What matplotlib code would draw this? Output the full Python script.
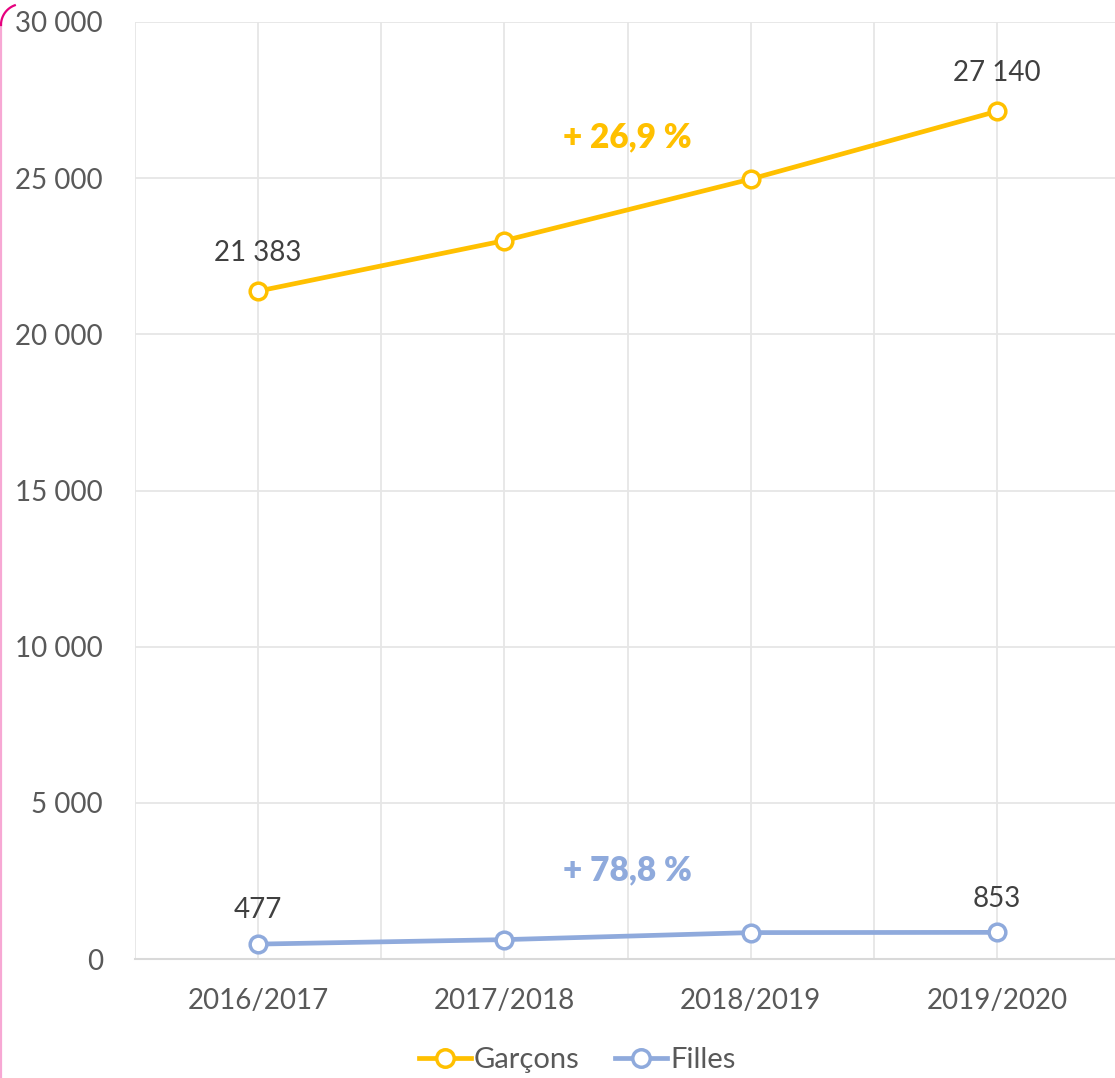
import matplotlib
matplotlib.use("Agg")
import matplotlib.pyplot as plt
from matplotlib.lines import Line2D
import numpy as np

categories = ["2016/2017", "2017/2018", "2018/2019", "2019/2020"]
garcons = [21383, 23000, 24970, 27140]
filles = [477, 620, 845, 853]
garcons_labels = ["21 383", None, None, "27 140"]
filles_labels = ["477", None, None, "853"]
yticks = [0, 5000, 10000, 15000, 20000, 25000, 30000]
ytick_labels = ["0", "5 000", "10 000", "15 000", "20 000", "25 000", "30 000"]
series_names = ["Garçons", "Filles"]
growth_labels = ["+ 26,9 %", "+ 78,8 %"]
growth_pos = [(1.5, 26300), (1.5, 2850)]

GOLD = "#FFC000"
BLUE = "#8FAADC"
plt.rcParams['font.family'] = ['Lato', 'DejaVu Sans']

W, H = 1115, 1078
fig = plt.figure(figsize=(W / 100, H / 100), dpi=100)
ax = fig.add_axes([135 / W, (H - 959) / H, 985 / W, 937 / H])
x = np.arange(len(categories))

ax.set_xlim(-0.5, 3.5)
ax.set_ylim(0, 30000)
ax.set_yticks(yticks)
ax.set_yticklabels(ytick_labels)
ax.set_xticks(x)
ax.set_xticklabels(categories)
ax.set_xticks(np.arange(-0.5, 3.6, 0.5), minor=True)
ax.tick_params(axis='both', which='both', length=0, labelsize=20, colors="#595959")
ax.tick_params(axis='x', pad=21)
ax.tick_params(axis='y', pad=23)
ax.grid(True, which='minor', axis='x', color="#E6E6E6", lw=1.3)
ax.grid(True, which='major', axis='x', color="#E6E6E6", lw=1.3)
ax.grid(True, which='major', axis='y', color="#E6E6E6", lw=1.3)
ax.set_axisbelow(True)
for s in ["top", "right", "left"]:
    ax.spines[s].set_visible(False)
ax.spines["bottom"].set_color("#D9D9D9")
ax.spines["bottom"].set_linewidth(1.5)

ax.plot(x, garcons, color=GOLD, lw=3.4, marker='o', ms=12, mfc='white', mec=GOLD, mew=2.5,
        label=series_names[0], zorder=3)
ax.plot(x, filles, color=BLUE, lw=3.4, marker='o', ms=12, mfc='white', mec=BLUE, mew=2.5,
        label=series_names[1], zorder=3)

for xi, v, lab in zip(x, garcons, garcons_labels):
    if lab:
        ax.annotate(lab, (xi, v), xytext=(0, 18), textcoords='offset points', ha='center',
                    va='bottom', fontsize=20, color="#404040")
for xi, v, lab in zip(x, filles, filles_labels):
    if lab:
        ax.annotate(lab, (xi, v), xytext=(0, 15), textcoords='offset points', ha='center',
                    va='bottom', fontsize=20, color="#404040")

ax.text(growth_pos[0][0], growth_pos[0][1], growth_labels[0], ha='center', va='center',
        fontsize=24, fontweight='heavy', color=GOLD)
ax.text(growth_pos[1][0], growth_pos[1][1], growth_labels[1], ha='center', va='center',
        fontsize=24, fontweight='heavy', color=BLUE)

leg = fig.legend(loc='center', bbox_to_anchor=(577 / W, 1 - 1060 / H), ncol=2, frameon=False,
                 fontsize=21, handlelength=1.8, handletextpad=0.1, columnspacing=1.2,
                 labelcolor="#595959", markerscale=1.05)

# pink border on the left
ys = np.linspace(25, H, 50)
fig.add_artist(Line2D([1.2 / W] * len(ys), 1 - ys / H, color="#F7A8D4", lw=1.6,
                      transform=fig.transFigure))
t = np.linspace(np.pi, np.pi / 2 + 0.35, 30)
cx, cy, r = 22, 25, 21
fig.add_artist(Line2D((cx + r * np.cos(t)) / W, 1 - (cy - r * np.sin(t)) / H, color="#E6007E",
                      lw=1.6, transform=fig.transFigure))

fig.savefig("out.png", dpi=100)
